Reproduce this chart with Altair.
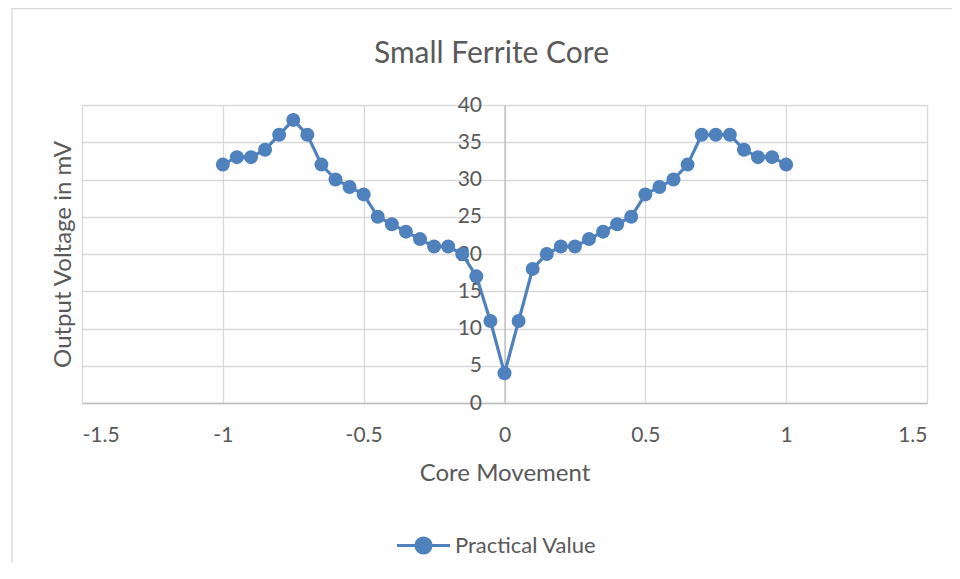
import altair as alt
import pandas as pd

# ---- data ----
core_movement = [-1.0, -0.95, -0.9, -0.85, -0.8, -0.75, -0.7, -0.65, -0.6, -0.55,
                 -0.5, -0.45, -0.4, -0.35, -0.3, -0.25, -0.2, -0.15, -0.1, -0.05,
                 0.0, 0.05, 0.1, 0.15, 0.2, 0.25, 0.3, 0.35, 0.4, 0.45,
                 0.5, 0.55, 0.6, 0.65, 0.7, 0.75, 0.8, 0.85, 0.9, 0.95, 1.0]
output_mv = [32, 33, 33, 34, 36, 38, 36, 32, 30, 29,
             28, 25, 24, 23, 22, 21, 21, 20, 17, 11,
             4, 11, 18, 20, 21, 21, 22, 23, 24, 25,
             28, 29, 30, 32, 36, 36, 36, 34, 33, 33, 32]
series_name = "Practical Value"
x_ticks = [-1.5, -1, -0.5, 0, 0.5, 1, 1.5]
y_ticks = [0, 5, 10, 15, 20, 25, 30, 35, 40]

df = pd.DataFrame({"x": core_movement, "y": output_mv,
                   "series": [series_name] * len(core_movement)})

BLUE = "#4F81BD"
TEXT = "#595959"
GRID = "#D9D9D9"
FONT = "Lato"
W, H = 845, 298

x_enc = alt.X("x:Q", scale=alt.Scale(domain=[-1.5, 1.5], nice=False, zero=False),
              axis=alt.Axis(values=x_ticks, title="Core Movement",
                            labelExpr="datum.value + ''",
                            labelPadding=21, titlePadding=16))
y_enc = alt.Y("y:Q", scale=alt.Scale(domain=[0, 40], nice=False),
              axis=alt.Axis(values=y_ticks, title="Output Voltage in mV",
                            offset=-W / 2, labelPadding=23,
                            titleX=-W / 2 - 12, titleBaseline="alphabetic"))

line = alt.Chart(df).mark_line(color=BLUE, strokeWidth=3.2).encode(x=x_enc, y=y_enc)

legend_path = ("M-1,0L1,0M0.283,0A0.283,0.283,0,1,1,-0.283,0"
               "A0.283,0.283,0,1,1,0.283,0Z")
points = alt.Chart(df).mark_circle(size=195, opacity=1).encode(
    x=x_enc, y=y_enc,
    color=alt.Color("series:N", scale=alt.Scale(range=[BLUE]),
                    legend=alt.Legend(title=None, orient="none",
                                      legendX=313, legendY=412,
                                      symbolType=legend_path, symbolSize=2809,
                                      symbolStrokeColor=BLUE, symbolStrokeWidth=3.2,
                                      symbolFillColor=BLUE,
                                      labelFontSize=22, labelColor=TEXT,
                                      labelFont=FONT, labelOffset=3, padding=0)))

border = alt.Chart(pd.DataFrame({"a": [0]})).mark_rect(
    fill="transparent", stroke=GRID, strokeWidth=1.3).encode(
    x=alt.value(-70), x2=alt.value(1000), y=alt.value(-96.5), y2=alt.value(700))

chart = alt.layer(border, line, points).properties(
    width=W, height=H,
    padding={"left": 74, "top": 97, "right": 25, "bottom": 160},
    autosize=alt.AutoSizeParams(type="none"),
    title=alt.TitleParams("Small Ferrite Core", fontSize=30, font=FONT,
                          fontWeight="normal", color=TEXT, anchor="middle",
                          baseline="alphabetic", offset=-85.2, dx=-13),
).configure_view(stroke="transparent").configure_axis(
    grid=True, gridColor=GRID, gridWidth=1.3,
    domainColor="#BFBFBF", domainWidth=1.3,
    ticks=False, tickSize=0,
    labelFont=FONT, labelFontSize=21, labelColor=TEXT,
    titleFont=FONT, titleFontSize=24, titleFontWeight="normal", titleColor=TEXT,
)

chart.save("out.html", embed_options={"renderer": "svg", "actions": False})
